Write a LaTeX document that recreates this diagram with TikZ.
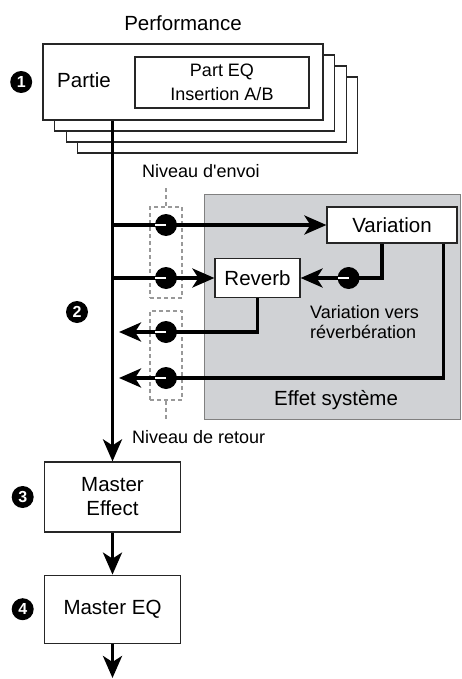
\documentclass[tikz,border=0pt]{standalone}
\usepackage{fontspec}
\setmainfont{Liberation Sans}
\usetikzlibrary{arrows.meta,positioning}
\definecolor{sysgray}{RGB}{208,210,213}
\begin{document}
\begin{tikzpicture}[x=1pt,y=-1pt,>={Stealth[length=22pt,width=19pt,inset=6pt]},every node/.style={font=\fontsize{20.5}{24}\selectfont},box/.style={draw=black!85,line width=1.2pt,fill=white,align=center,inner sep=0pt},lbl/.style={font=\fontsize{18}{20.5}\selectfont,align=left,inner sep=0pt},bullet/.style={circle,fill=black,text=white,inner sep=0pt,minimum size=22pt,font=\fontsize{16}{16}\selectfont\bfseries},knob/.style={circle,fill=black,inner sep=0pt,minimum size=22pt,path picture={\draw[white,line width=2.5pt] (path picture bounding box.center) -- (path picture bounding box.west);}},flow/.style={line width=3.5pt},dashbox/.style={draw=black!40,line width=1.6pt,dash pattern=on 4pt off 3pt,minimum width=32pt,inner sep=0pt},dashline/.style={draw=black!40,line width=1.6pt,dash pattern=on 4pt off 3pt},layer/.style={draw=black!85,line width=1.2pt,fill=white}]
\useasboundingbox (0,0) rectangle (461,679);
\foreach \d in {3,2,1} \draw[layer] (43+11.6*\d,44+11*\d) rectangle ++(280,76);
\node[box,minimum width=280pt,minimum height=76pt] (part) at (183,82) {};
\node (partie) at (84,80) {Partie};
\node[box,font=\fontsize{18}{24}\selectfont,minimum width=174pt,minimum height=51pt] (peq) at (222,82.5) {Part EQ\\Insertion A/B};
\node (perf) at (183,23) {Performance};
\node[bullet,left=10pt of part] (b1) {1};
\node[fill=sysgray,draw=black!50,line width=0.8pt,minimum width=256pt,minimum height=225pt,inner sep=0pt] (sys) at (332.5,306.5) {};
\node (sysl) at (336,400) {Effet système};
\node[box,minimum width=130pt,minimum height=36pt] (var) at (392,225) {Variation};
\node[box,minimum width=85pt,minimum height=39pt] (rev) at (257.5,278) {Reverb};
\node[box,minimum width=136pt,minimum height=70pt] (fx) at (112.5,497) {Master\\Effect};
\node[box,minimum width=136pt,minimum height=68pt,below=42pt of fx] (eq) {Master EQ};
\node[bullet,left=10pt of fx] (b3) {3};
\node[bullet,left=10pt of eq] (b4) {4};
\node[bullet] (b2) at (77,312) {2};
\node[dashbox,minimum height=91pt] (snd) at (166,252.5) {};
\node[dashbox,minimum height=89pt] (ret) at (166,355.5) {};
\draw[dashline] (snd.north) -- ++(0,-20);
\draw[dashline] (ret.south) -- ++(0,19);
\node[lbl,anchor=west] (envoi) at (142,171) {Niveau d\textquotesingle envoi};
\node[lbl,anchor=west] (retour) at (132,437) {Niveau de retour};
\node[lbl,anchor=west] (v2r) at (310,322) {Variation vers\\réverbération};
\coordinate (r3) at (119,332);
\coordinate (r4) at (119,378);
\coordinate (out) at (112.5,678);
\draw[flow,->] (part.south -| fx.north) -- (fx.north);
\draw[flow,->] (fx.north |- var.west) -- (var.west);
\draw[flow,->] (fx.north |- rev.west) -- (rev.west);
\draw[flow,->] (rev.south) |- (r3);
\draw[flow,->] ([xshift=-14pt]var.south east) |- (r4);
\draw[flow,->] ([xshift=-10pt]var.south) |- (rev.east);
\draw[flow,->] (fx.south) -- (eq.north);
\draw[flow,->] (eq.south) -- (out);
\node[knob] (k1) at (snd.center |- var.west) {};
\node[knob] (k2) at (snd.center |- rev.west) {};
\node[knob] (k3) at (ret.center |- r3) {};
\node[knob] (k4) at (ret.center |- r4) {};
\node[knob] (k5) at ([xshift=48pt]rev.east) {};
\end{tikzpicture}
\end{document}
